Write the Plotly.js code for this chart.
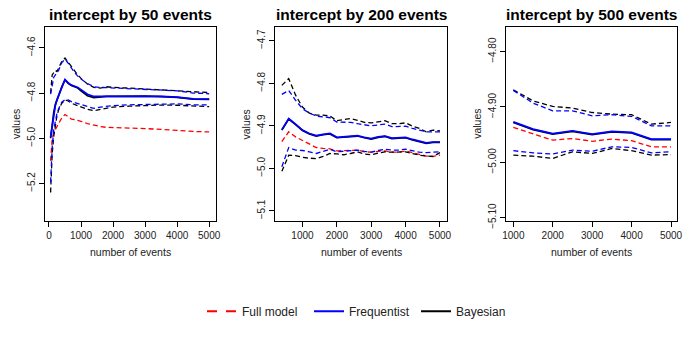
<!DOCTYPE html>
<html>
<head>
<meta charset="utf-8">
<script src="https://cdn.plot.ly/plotly-3.0.1.min.js"></script>
<style>
  html, body { margin: 0; padding: 0; background: #fff; }
  #chartArea { width: 692px; height: 364px; }
</style>
</head>
<body>
<div id="chartArea"></div>
<script>
// panel 1: intercept by 50 events
let events50 = [50, 100, 150, 200, 250, 300, 400, 500, 600, 700, 800, 900, 1000, 1200, 1400, 1600, 1800, 2000, 2500, 3000, 3500, 4000, 4500, 5000];
let full50 = [-5.10, -5.00, -4.975, -4.96, -4.95, -4.935, -4.91, -4.895, -4.905, -4.915, -4.918, -4.92, -4.925, -4.935, -4.942, -4.948, -4.952, -4.952, -4.955, -4.957, -4.960, -4.965, -4.970, -4.972];
let freq50 = [-4.995, -4.945, -4.89, -4.855, -4.83, -4.81, -4.77, -4.74, -4.755, -4.765, -4.77, -4.775, -4.785, -4.805, -4.815, -4.815, -4.814, -4.814, -4.813, -4.813, -4.815, -4.818, -4.826, -4.827];
let freqHi50 = [-4.805, -4.76, -4.73, -4.72, -4.71, -4.70, -4.665, -4.65, -4.668, -4.69, -4.71, -4.725, -4.738, -4.758, -4.772, -4.775, -4.776, -4.778, -4.780, -4.785, -4.787, -4.790, -4.800, -4.803];
let freqLo50 = [-5.195, -5.04, -4.96, -4.92, -4.89, -4.87, -4.84, -4.83, -4.83, -4.838, -4.842, -4.848, -4.853, -4.86, -4.868, -4.862, -4.858, -4.856, -4.852, -4.850, -4.848, -4.848, -4.852, -4.852];
let bayes50 = [-5.0, -4.94, -4.885, -4.85, -4.828, -4.808, -4.772, -4.742, -4.757, -4.766, -4.772, -4.778, -4.79, -4.812, -4.82, -4.817, -4.815, -4.815, -4.814, -4.814, -4.816, -4.819, -4.827, -4.828];
let bayesHi50 = [-4.80, -4.72, -4.71, -4.70, -4.705, -4.69, -4.66, -4.645, -4.665, -4.685, -4.705, -4.72, -4.735, -4.76, -4.775, -4.778, -4.772, -4.775, -4.778, -4.782, -4.785, -4.788, -4.795, -4.798];
let bayesLo50 = [-5.24, -5.07, -4.99, -4.94, -4.90, -4.875, -4.845, -4.83, -4.835, -4.845, -4.85, -4.858, -4.862, -4.872, -4.878, -4.872, -4.866, -4.862, -4.858, -4.855, -4.853, -4.854, -4.858, -4.86];

// panel 2: intercept by 200 events
let events200 = [400, 600, 800, 1000, 1200, 1400, 1600, 1800, 2000, 2200, 2400, 2600, 2800, 3000, 3200, 3400, 3600, 3800, 4000, 4200, 4400, 4600, 4800, 5000];
let full200 = [-4.937, -4.914, -4.926, -4.935, -4.943, -4.951, -4.953, -4.954, -4.959, -4.958, -4.957, -4.957, -4.961, -4.962, -4.960, -4.959, -4.962, -4.962, -4.959, -4.963, -4.968, -4.971, -4.972, -4.969];
let freq200 = [-4.909, -4.883, -4.896, -4.910, -4.918, -4.923, -4.920, -4.918, -4.927, -4.926, -4.925, -4.923, -4.927, -4.930, -4.926, -4.924, -4.929, -4.928, -4.927, -4.932, -4.936, -4.940, -4.938, -4.938];
let freqHi200 = [-4.826, -4.817, -4.840, -4.860, -4.870, -4.877, -4.879, -4.881, -4.891, -4.892, -4.892, -4.895, -4.898, -4.900, -4.898, -4.896, -4.902, -4.902, -4.901, -4.906, -4.910, -4.914, -4.914, -4.914];
let freqLo200 = [-4.996, -4.951, -4.957, -4.958, -4.961, -4.965, -4.960, -4.955, -4.961, -4.960, -4.958, -4.957, -4.960, -4.962, -4.958, -4.955, -4.957, -4.957, -4.955, -4.958, -4.962, -4.963, -4.962, -4.961];
let bayes200 = [-4.910, -4.884, -4.897, -4.911, -4.919, -4.924, -4.921, -4.919, -4.928, -4.927, -4.926, -4.924, -4.928, -4.931, -4.927, -4.925, -4.930, -4.929, -4.928, -4.933, -4.937, -4.941, -4.939, -4.939];
let bayesHi200 = [-4.805, -4.789, -4.828, -4.856, -4.870, -4.875, -4.875, -4.877, -4.888, -4.885, -4.883, -4.887, -4.892, -4.893, -4.891, -4.888, -4.895, -4.895, -4.893, -4.901, -4.906, -4.914, -4.910, -4.912];
let bayesLo200 = [-5.007, -4.969, -4.970, -4.974, -4.976, -4.977, -4.972, -4.965, -4.966, -4.968, -4.965, -4.961, -4.966, -4.968, -4.964, -4.961, -4.962, -4.962, -4.961, -4.965, -4.969, -4.971, -4.972, -4.963];

// panel 3: intercept by 500 events
let events500 = [1000, 1500, 2000, 2500, 3000, 3500, 4000, 4500, 5000];
let full500 = [-4.937, -4.948, -4.960, -4.957, -4.962, -4.958, -4.961, -4.972, -4.972];
let freq500 = [-4.927, -4.940, -4.948, -4.943, -4.949, -4.944, -4.946, -4.958, -4.958];
let freqHi500 = [-4.870, -4.893, -4.907, -4.907, -4.916, -4.914, -4.917, -4.934, -4.934];
let freqLo500 = [-4.979, -4.983, -4.985, -4.978, -4.980, -4.972, -4.973, -4.983, -4.981];
let bayes500 = [-4.928, -4.941, -4.949, -4.944, -4.950, -4.945, -4.947, -4.959, -4.959];
let bayesHi500 = [-4.869, -4.889, -4.899, -4.902, -4.910, -4.913, -4.914, -4.931, -4.928];
let bayesLo500 = [-4.987, -4.989, -4.993, -4.981, -4.984, -4.975, -4.979, -4.987, -4.986];

// tick labels
let xTicks1 = [0, 1000, 2000, 3000, 4000, 5000];
let xTicks23 = [1000, 2000, 3000, 4000, 5000];
let yTicks1 = [-5.2, -5.0, -4.8, -4.6];
let yTickText1 = ["\u22125.2", "\u22125.0", "\u22124.8", "\u22124.6"];
let yTicks2 = [-5.1, -5.0, -4.9, -4.8, -4.7];
let yTickText2 = ["\u22125.1", "\u22125.0", "\u22124.9", "\u22124.8", "\u22124.7"];
let yTicks3 = [-5.10, -5.00, -4.90, -4.80];
let yTickText3 = ["\u22125.10", "\u22125.00", "\u22124.90", "\u22124.80"];

let panelTitles = ["intercept by 50 events", "intercept by 200 events", "intercept by 500 events"];
let legendNames = ["Full model", "Frequentist", "Bayesian"];

const RED = "#ff0000", BLUE = "#0000ff", BLACK = "#000000";
const DASH = "5px,3px";

function line(x, y, color, dashed, n) {
    return {
        x: x, y: y,
        xaxis: n === 1 ? "x" : "x" + n,
        yaxis: n === 1 ? "y" : "y" + n,
        type: "scatter", mode: "lines",
        line: {color: color, width: dashed ? 1.3 : 1.7, dash: dashed ? DASH : "solid"},
        showlegend: false, hoverinfo: "skip"
    };
}

function panel(n, x, full, freq, fHi, fLo, bayes, bHi, bLo) {
    return [
        line(x, full, RED, true, n),
        line(x, bayes, BLACK, false, n),
        line(x, bHi, BLACK, true, n),
        line(x, bLo, BLACK, true, n),
        line(x, freq, BLUE, false, n),
        line(x, fHi, BLUE, true, n),
        line(x, fLo, BLUE, true, n)
    ];
}

let data = [].concat(
    panel(1, events50, full50, freq50, freqHi50, freqLo50, bayes50, bayesHi50, bayesLo50),
    panel(2, events200, full200, freq200, freqHi200, freqLo200, bayes200, bayesHi200, bayesLo200),
    panel(3, events500, full500, freq500, freqHi500, freqLo500, bayes500, bayesHi500, bayesLo500)
);

// legend-only entries
let legendStyles = [[RED, "10px,9px"], [BLUE, "solid"], [BLACK, "solid"]];
legendNames.forEach(function(name, i) {
    data.push({
        x: [null], y: [null], type: "scatter", mode: "lines", name: name,
        line: {color: legendStyles[i][0], width: 2, dash: legendStyles[i][1]},
        showlegend: true, hoverinfo: "skip"
    });
});

const FONT = "Liberation Sans, Arial, Helvetica, sans-serif";

function xAxis(domain, range, ticks, anchor) {
    return {
        domain: domain, range: range, anchor: anchor,
        tickmode: "array", tickvals: ticks, ticktext: ticks.map(String),
        showgrid: false, zeroline: false,
        showline: true, mirror: true, linecolor: "#000", linewidth: 1,
        ticks: "outside", ticklen: 5, tickcolor: "#000", tickwidth: 1,
        tickfont: {family: FONT, size: 10, color: "#222"}
    };
}

function yAxis(range, ticks, text, anchor) {
    return {
        domain: [0.393, 0.925], range: range, anchor: anchor,
        tickmode: "array", tickvals: ticks, ticktext: text, tickangle: -90,
        showgrid: false, zeroline: false,
        showline: true, mirror: true, linecolor: "#000", linewidth: 1,
        ticks: "outside", ticklen: 5, tickcolor: "#000", tickwidth: 1,
        tickfont: {family: FONT, size: 10, color: "#222"}
    };
}

let xDomains = [[0.065, 0.312], [0.398, 0.6455], [0.7308, 0.9788]];

let annotations = [];
xDomains.forEach(function(d, i) {
    let mid = (d[0] + d[1]) / 2;
    annotations.push({
        text: "<b>" + panelTitles[i] + "</b>", xref: "paper", yref: "paper",
        x: mid, y: 0.959, xanchor: "center", yanchor: "middle", showarrow: false,
        font: {family: FONT, size: 15.5, color: "#000"}
    });
    annotations.push({
        text: "number of events", xref: "paper", yref: "paper",
        x: mid, y: 0.309, xanchor: "center", yanchor: "middle", showarrow: false,
        font: {family: FONT, size: 10.5, color: "#222"}
    });
    annotations.push({
        text: "values", xref: "paper", yref: "paper", textangle: -90,
        x: d[0] - 29 / 692, y: 0.659, xanchor: "center", yanchor: "middle", showarrow: false,
        font: {family: FONT, size: 10.5, color: "#222"}
    });
});

let layout = {
    width: 692, height: 364,
    margin: {l: 0, r: 0, t: 0, b: 0},
    paper_bgcolor: "#fff", plot_bgcolor: "#fff",
    font: {family: FONT, color: "#000"},
    showlegend: true,
    legend: {
        orientation: "h", x: 202 / 692, xanchor: "left", y: 0.145, yanchor: "middle",
        font: {family: FONT, size: 12, color: "#222"},
        entrywidth: 62, itemwidth: 30, bgcolor: "rgba(0,0,0,0)"
    },
    xaxis: xAxis(xDomains[0], [-125, 5210], xTicks1, "y"),
    xaxis2: xAxis(xDomains[1], [213, 5195], xTicks23, "y2"),
    xaxis3: xAxis(xDomains[2], [807, 5160], xTicks23, "y3"),
    yaxis: yAxis([-5.366, -4.509], yTicks1, yTickText1, "x"),
    yaxis2: yAxis([-5.1235, -4.6685], yTicks2, yTickText2, "x2"),
    yaxis3: yAxis([-5.106, -4.756], yTicks3, yTickText3, "x3"),
    annotations: annotations
};

Plotly.newPlot("chartArea", data, layout, {staticPlot: true});
</script>
</body>
</html>
